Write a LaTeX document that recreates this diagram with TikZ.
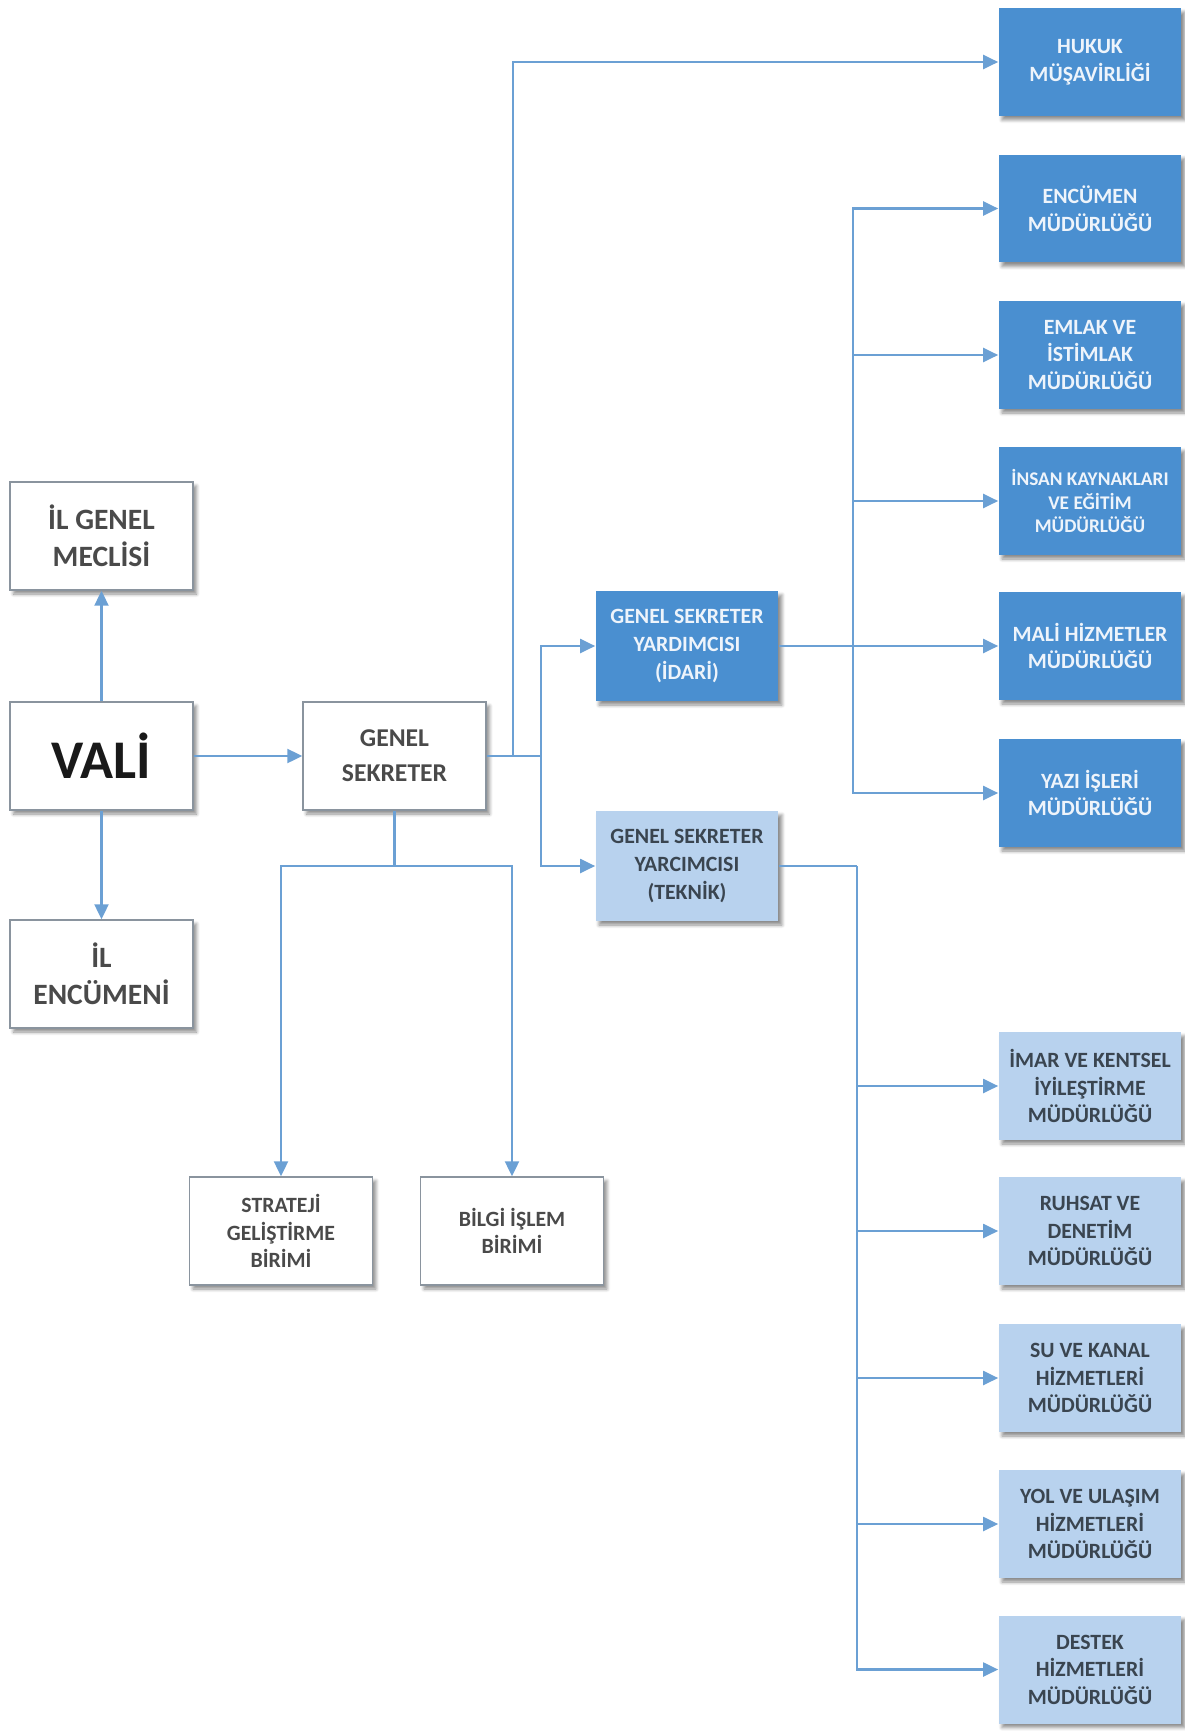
\documentclass[tikz,border=0pt]{standalone}
\usepackage{fontspec}
\setmainfont{Carlito}
\usepackage{tikz}
\usetikzlibrary{arrows.meta, shadows.blur, positioning, calc}

\definecolor{darkbox}{HTML}{4A8FD0}
\definecolor{lightbox}{HTML}{B8D2EE}
\definecolor{linkline}{HTML}{6BA0D4}
\definecolor{boxborder}{HTML}{8A949E}
\definecolor{greytext}{HTML}{4A4A4A}
\definecolor{darktext}{HTML}{3A4550}
\definecolor{whitetext}{HTML}{EEF4FB}

\tikzset{
    unit/.style={rectangle, minimum width=3.66cm, minimum height=2.16cm, inner sep=1pt, align=center,
        font=\bfseries\fontsize{12.4}{15.7}\selectfont,
        blur shadow={shadow xshift=0.07cm, shadow yshift=-0.08cm, shadow blur steps=6, shadow opacity=45}},
    plain/.style={unit, draw=boxborder, line width=0.8pt, fill=white, text=greytext},
    dark/.style={unit, fill=darkbox, text=whitetext},
    light/.style={unit, fill=lightbox, text=darktext},
    link/.style={draw=linkline, line width=1.2pt, -{Triangle[length=0.3cm, width=0.28cm]}},
    line/.style={draw=linkline, line width=1.2pt}
}

\begin{document}
\begin{tikzpicture}[x=0.02cm, y=-0.02cm]
                            \useasboundingbox (0, 0) rectangle (1184, 1731);

                            \node[plain, font=\bfseries\fontsize{16.8}{21.3}\selectfont] (meclis) at (101.5, 536) {İL GENEL\\MECLİSİ};
                            \node[plain, text=black!90, font=\bfseries\fontsize{31}{36}\selectfont] (vali) at (101.5, 756) {VALİ};
                            \node[plain, font=\bfseries\fontsize{16.8}{21.3}\selectfont] (encumeni) at (101.5, 974) {İL\\ENCÜMENİ};

                            \node[plain, font=\bfseries\fontsize{14.6}{20}\selectfont] (gs) at (394.5, 756) {GENEL\\SEKRETER};
                            \node[plain] (strateji) at (281, 1231) {STRATEJİ\\GELİŞTİRME\\BİRİMİ};
                            \node[plain] (bilgi) at (512, 1231) {BİLGİ İŞLEM\\BİRİMİ};

                            \node[dark, minimum height=2.2cm] (idari) at (687, 646) {GENEL SEKRETER\\YARDIMCISI\\(İDARİ)};
                            \node[light, minimum height=2.2cm] (teknik) at (687, 866) {GENEL SEKRETER\\YARCIMCISI\\(TEKNİK)};

                            \node[dark] (hukuk) at (1090, 62) {HUKUK\\MÜŞAVİRLİĞİ};
                            \node[dark] (encumen) at (1090, 208.5) {ENCÜMEN\\MÜDÜRLÜĞÜ};
                            \node[dark] (emlak) at (1090, 355) {EMLAK VE\\İSTİMLAK\\MÜDÜRLÜĞÜ};
                            \node[dark, font=\bfseries\fontsize{11}{13.5}\selectfont] (insan) at (1090, 501) {İNSAN KAYNAKLARI\\VE EĞİTİM\\MÜDÜRLÜĞÜ};
                            \node[dark] (mali) at (1090, 646) {MALİ HİZMETLER\\MÜDÜRLÜĞÜ};
                            \node[dark] (yazi) at (1090, 793) {YAZI İŞLERİ\\MÜDÜRLÜĞÜ};

                            \node[light] (imar) at (1090, 1086) {İMAR VE KENTSEL\\İYİLEŞTİRME\\MÜDÜRLÜĞÜ};
                            \node[light] (ruhsat) at (1090, 1231) {RUHSAT VE\\DENETİM\\MÜDÜRLÜĞÜ};
                            \node[light] (su) at (1090, 1378) {SU VE KANAL\\HİZMETLERİ\\MÜDÜRLÜĞÜ};
                            \node[light] (yol) at (1090, 1524) {YOL VE ULAŞIM\\HİZMETLERİ\\MÜDÜRLÜĞÜ};
                            \node[light] (destek) at (1090, 1669.5) {DESTEK\\HİZMETLERİ\\MÜDÜRLÜĞÜ};

                            \coordinate (up) at (513, 756);
                            \coordinate (fork) at (541, 756);
                            \coordinate (down) at (394.5, 866);
                            \coordinate (idarifork) at (853, 646);
                            \coordinate (teknikfork) at (857, 866);

                            \draw
                            (vali) edge[link] (meclis)
                            (vali) edge[link] (encumeni)
                            (vali) edge[link] (gs)
                            (gs) edge[line] (fork)
                            (gs) edge[line] (down)
                            (idari) edge[line] (idarifork)
                            (teknik) edge[line] (teknikfork)
                            (idarifork) edge[link] (mali);

                            \draw[link] (up) |- (hukuk);
                            \draw[link] (fork) |- (idari);
                            \draw[link] (fork) |- (teknik);
                            \draw[link] (down) -| (strateji);
                            \draw[link] (down) -| (bilgi);

                            \draw[link] (idarifork) |- (encumen);
                            \draw[link] (idarifork) |- (emlak);
                            \draw[link] (idarifork) |- (insan);
                            \draw[link] (idarifork) |- (yazi);

                            \draw[link] (teknikfork) |- (imar);
                            \draw[link] (teknikfork) |- (ruhsat);
                            \draw[link] (teknikfork) |- (su);
                            \draw[link] (teknikfork) |- (yol);
                            \draw[link] (teknikfork) |- (destek);
                        \end{tikzpicture}
\end{document}
